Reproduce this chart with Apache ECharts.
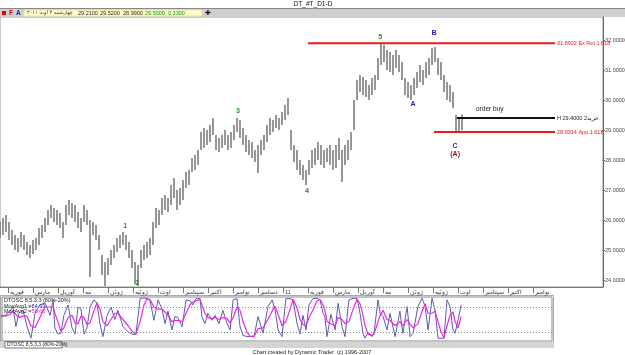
<!DOCTYPE html>
<html>
<head>
<meta charset="utf-8">
<title>DT_#T_D1-D</title>
<script src="https://cdn.jsdelivr.net/npm/echarts@6.0.0/dist/echarts.min.js"></script>
<style>
  html, body { margin: 0; padding: 0; background: #fff; }
  #chart { width: 625px; height: 355px; }
</style>
</head>
<body>
<div id="chart"></div>
<script>
// x unit = months since Jan 2010; one bar every ~3 trading days
const barStart = 0.68;
const barStep = 0.12;

const highs = [
  25.93, 26.07, 26.17, 25.93, 25.67, 25.50, 25.40, 25.60, 25.50, 25.27,
  25.17, 25.33, 25.40, 25.73, 25.83, 26.07, 26.33, 26.50, 26.40, 26.33,
  26.23, 25.93, 26.50, 26.67, 26.57, 26.50, 26.27, 26.07, 26.50, 26.33,
  26.00, 25.93, 25.83, 25.50, 24.83, 24.60, 24.73, 25.00, 25.17, 25.40,
  25.50, 25.60, 25.50, 25.27, 25.00, 24.60, 24.50, 25.00, 25.17, 25.27,
  25.40, 25.93, 26.40, 26.33, 26.73, 26.83, 26.73, 27.17, 27.40, 27.00,
  27.07, 27.33, 27.60, 27.67, 28.07, 28.17, 28.33, 28.93, 29.07, 29.00,
  29.17, 29.40, 28.83, 28.73, 28.83, 29.00, 28.83, 28.93, 29.17, 29.40,
  29.33, 29.07, 28.83, 28.67, 28.60, 28.33, 28.50, 28.67, 28.83, 29.17,
  29.40, 29.33, 29.50, 29.40, 29.60, 29.83, 30.07, 29.00, 28.50, 28.33,
  28.00, 27.83, 27.67, 28.00, 28.33, 28.40, 28.60, 28.50, 28.33, 28.40,
  28.50, 28.33, 28.50, 28.73, 28.33, 28.50, 28.67, 28.93, 30.00, 30.67,
  30.83, 30.77, 30.67, 30.50, 30.73, 30.83, 31.40, 31.90, 31.83, 31.67,
  31.60, 31.50, 31.67, 31.50, 31.27, 30.73, 30.60, 30.50, 30.73, 30.93,
  31.17, 31.00, 31.27, 31.40, 31.73, 31.77, 31.40, 31.27, 30.83, 30.60,
  30.50, 30.27, 29.50, 29.40, 29.52
];
const lows = [
  25.40, 25.50, 25.60, 25.33, 25.17, 25.00, 24.93, 25.10, 25.00, 24.83,
  24.73, 24.87, 25.00, 25.17, 25.40, 25.60, 25.83, 26.07, 25.93, 25.83,
  25.73, 25.40, 25.83, 26.17, 26.07, 25.93, 25.73, 25.60, 25.93, 25.83,
  24.10, 25.50, 25.33, 25.00, 24.17, 23.80, 24.17, 24.50, 24.73, 24.93,
  25.07, 25.17, 25.00, 24.73, 24.40, 23.87, 23.80, 24.40, 24.67, 24.73,
  24.83, 25.17, 25.73, 25.83, 26.17, 26.33, 26.27, 26.50, 26.73, 26.33,
  26.50, 26.67, 27.07, 27.17, 27.60, 27.67, 27.83, 28.33, 28.40, 28.50,
  28.60, 28.83, 28.33, 28.27, 28.40, 28.50, 28.33, 28.40, 28.67, 28.93,
  28.73, 28.50, 28.27, 28.17, 28.07, 27.93, 27.57, 28.17, 28.33, 28.60,
  28.83, 28.93, 29.07, 29.00, 29.17, 29.33, 29.50, 28.33, 27.93, 27.67,
  27.50, 27.33, 27.17, 27.50, 27.73, 27.83, 28.00, 27.83, 27.73, 27.93,
  27.83, 27.67, 27.73, 28.00, 27.27, 27.83, 28.00, 28.33, 29.00, 30.00,
  30.27, 30.17, 30.10, 30.00, 30.17, 30.33, 30.67, 31.17, 31.27, 31.00,
  30.93, 30.83, 31.07, 30.93, 30.67, 30.17, 30.07, 30.00, 30.17, 30.40,
  30.60, 30.50, 30.73, 30.83, 31.17, 31.27, 30.83, 30.67, 30.27, 30.00,
  29.93, 29.73, 28.90, 28.93, 28.99
];

// month ticks (1 = Feb 2010) and their Persian labels
const monthTicks = [1, 2, 3, 4, 5, 6, 7, 8, 9, 10, 11, 12, 13, 14, 15, 16, 17, 18, 19, 20, 21, 22];
const monthNames = ['فوریه', 'مارس', 'آوریل', 'مه', 'ژوئن', 'ژوئیه', 'اوت', 'سپتامبر', 'اکتبر', 'نوامبر', 'دسامبر', '11',
  'فوریه', 'مارس', 'آوریل', 'مه', 'ژوئن', 'ژوئیه', 'اوت', 'سپتامبر', 'اکتبر', 'نوامبر'];
const priceTicks = [24, 25, 26, 27, 28, 29, 30, 31, 32];
const lastPrice = 29.53;

// Elliott wave labels (bar index, price)
const waveNames = ['1', '2', '3', '4', '5', 'A', 'B', 'C', '(A)'];
const waveIdx = [41.7, 45.7, 79.3, 102.3, 126.7, 137.7, 144.7, 151.7, 151.7];
const wavePrice = [25.80, 23.90, 29.62, 26.97, 32.10, 29.87, 32.23, 28.47, 28.20];

// level lines
const levelValues = [31.8922, 29.4, 28.9314];
const levelStart = [102.7, 152.3, 144.7];
const levelEnd = 185;
const levelTexts = ['31.8922 Ex Ret 1.618', 'H 29.4000 خرید2', '28.9314 App 1.618'];

// DTOSC 8,5,3,3 (bar index positions)
const oscPos = [
  0, 1.7, 3.3, 4.3, 5.3, 6.3, 7.7, 9, 10.3, 11.7,
  13.3, 15, 16.7, 17.7, 18.3, 19.3, 20.3, 21.3, 22.7, 24,
  25, 26, 27, 28, 29, 30, 31.3, 32.3, 33.3, 34.3,
  35.7, 37, 38.3, 39.3, 41, 42.7, 44, 45.3, 46.7, 48,
  49, 50, 51.3, 52.7, 54, 55, 56, 57.3, 58.3, 59.3,
  60.7, 62, 63.3, 64.3, 65.3, 66.7, 67.3, 68.3, 69.3, 70.7,
  71.7, 73, 74.3, 75.7, 76.7, 77.7, 79, 80, 81, 82.3,
  83.3, 84.7, 86, 87.7, 89.3, 90.7, 91.7, 92.7, 94, 95.3,
  96.7, 97.7, 99, 100, 101, 102, 103, 104.3, 105.7, 106.7,
  107.7, 108.3, 109, 110.3, 111.7, 112.7, 114, 115, 116.3, 117.7,
  119, 120, 121, 121.7, 122.7, 124, 124.7, 126, 126.7, 127.7,
  129, 130, 131.7, 133.3, 134.3, 135.7, 136.7, 137.7, 139.3, 140.7,
  141.7, 142.7, 144, 145, 146, 147, 148, 149, 150, 151,
  151.7, 152.7, 153.7
];
const oscFast = [
  57, 60, 70, 81, 33, 65, 72, 33, 5, 65,
  85, 90, 60, 97, 30, 15, 17, 60, 85, 30,
  15, 80, 75, 15, 30, 80, 97, 90, 40, 9,
  60, 80, 50, 72, 33, 20, 15, 14, 100, 102,
  100, 96, 48, 97, 75, 40, 70, 25, 57, 55,
  33, 97, 95, 85, 100, 100, 57, 40, 65, 48,
  60, 40, 72, 40, 25, 97, 100, 33, 12, 9,
  9, 10, 57, 17, 80, 97, 73, 25, 9, 100,
  100, 97, 41, 15, 60, 25, 85, 100, 101, 97,
  65, 57, 9, 62, 25, 89, 33, 9, 97, 101,
  101, 65, 17, 5, 20, 9, 20, 97, 65, 57,
  25, 65, 9, 70, 17, 81, 9, 17, 81, 101,
  81, 25, 101, 73, 5, 5, 5, 97, 81, 25,
  17, 49, 84.99
];
const oscSlow = [
  60, 58, 62, 70, 62, 55, 58, 58, 35, 30,
  55, 80, 80, 80, 65, 45, 22, 30, 55, 60,
  42, 40, 58, 55, 38, 42, 70, 90, 75, 45,
  35, 50, 65, 65, 50, 35, 22, 15, 45, 85,
  100, 98, 80, 75, 75, 68, 60, 45, 48, 48,
  45, 65, 85, 92, 95, 98, 85, 65, 55, 52,
  55, 50, 55, 52, 42, 55, 80, 72, 45, 20,
  10, 9, 28, 30, 50, 70, 82, 62, 35, 45,
  75, 98, 78, 50, 38, 35, 55, 72, 95, 98,
  85, 72, 45, 40, 35, 55, 50, 40, 45, 75,
  98, 88, 60, 35, 15, 12, 15, 45, 60, 72,
  50, 48, 35, 45, 35, 50, 38, 30, 40, 70,
  88, 65, 65, 70, 45, 20, 6, 35, 60, 68,
  45, 30, 56.66
];
const oscBands = [80, 20];

const infoDate = 'چهارشنبه ۳ اوت ۲۰۱۱';
const infoValues = ['29.2100', '29.5200', '28.9900', '29.5000', '0.3300'];

const toMonth = i => barStart + i * barStep;
const FONT = 'Liberation Sans, Arial, sans-serif';

const bars = highs.map((h, i) => [toMonth(i), lows[i], h]);
const fastData = oscPos.map((p, i) => [toMonth(p), oscFast[i]]);
const slowData = oscPos.map((p, i) => [toMonth(p), oscSlow[i]]);
const waveData = waveNames.map((n, k) => [toMonth(waveIdx[k]), wavePrice[k], k]);

const levelColors = ['#f01818', '#111111', '#f01818'];
const waveColors = ['#2e8b2e', '#2e8b2e', '#2e8b2e', '#2e8b2e', '#2e8b2e', '#2222cc', '#2222cc', '#2222cc', '#8b1010'];

const chart = echarts.init(document.getElementById('chart'));

const levelSeries = levelValues.map((v, k) => ({
  type: 'line',
  xAxisIndex: 0,
  yAxisIndex: 0,
  data: [[toMonth(levelStart[k]), v], [toMonth(levelEnd), v]],
  showSymbol: false,
  silent: true,
  lineStyle: { color: levelColors[k], width: 2 },
  endLabel: {
    show: true,
    formatter: () => levelTexts[k],
    color: levelColors[k] === '#111111' ? '#222' : '#e02020',
    fontSize: 5.5,
    fontFamily: FONT,
    distance: 2
  },
  markLine: k === 1 ? {
    silent: true,
    symbol: 'none',
    lineStyle: { opacity: 0 },
    label: {
      position: 'end',
      formatter: lastPrice.toFixed(4),
      backgroundColor: '#ffff00',
      color: '#333',
      fontSize: 5.5,
      fontFamily: FONT,
      padding: [1, 1, 0, 1],
      distance: 1
    },
    data: [{ yAxis: lastPrice }]
  } : undefined
}));

const option = {
  animation: false,
  backgroundColor: '#ffffff',
  grid: [
    { left: 0, top: 17, width: 603, height: 270, show: true, borderColor: '#999', backgroundColor: '#fff', containLabel: false, outerBoundsMode: 'none' },
    { left: 2, top: 297, width: 550, height: 44, show: true, borderColor: '#888', backgroundColor: '#fff', containLabel: false, outerBoundsMode: 'none' }
  ],
  xAxis: [
    {
      type: 'value', gridIndex: 0, min: barStart, max: 24.8,
      axisLine: { show: true, lineStyle: { color: '#777' } },
      axisTick: { show: true, customValues: monthTicks, length: 6, lineStyle: { color: '#777' } },
      axisLabel: {
        customValues: monthTicks,
        formatter: v => monthNames[Math.round(v) - 1],
        align: 'left',
        fontSize: 5.5,
        color: '#333',
        margin: 2,
        padding: [0, 0, 0, 2]
      },
      splitLine: { show: false }
    },
    { type: 'value', gridIndex: 1, min: barStart + 2 * 0.04, max: barStart + 552 * 0.04, show: false, splitLine: { show: false } }
  ],
  yAxis: [
    {
      type: 'value', gridIndex: 0, position: 'right', min: 23.7667, max: 32.7667,
      axisLine: { show: true, lineStyle: { color: '#666' } },
      axisTick: { show: true, customValues: priceTicks, length: 2, lineStyle: { color: '#666' } },
      axisLabel: { customValues: priceTicks, formatter: v => v.toFixed(4), fontSize: 5.5, color: '#444', margin: 2, fontFamily: FONT },
      splitLine: { show: false }
    },
    { type: 'value', gridIndex: 1, min: -1.6, max: 104, show: false, splitLine: { show: false } }
  ],
  series: [
    {
      type: 'custom',
      xAxisIndex: 0,
      yAxisIndex: 0,
      silent: true,
      clip: true,
      data: bars,
      encode: { x: 0, y: [1, 2] },
      renderItem: (params, api) => {
        const lo = api.coord([api.value(0), api.value(1)]);
        const hi = api.coord([api.value(0), api.value(2)]);
        return {
          type: 'line',
          shape: { x1: lo[0], y1: lo[1], x2: hi[0], y2: hi[1] },
          style: { stroke: '#6a6a6a', lineWidth: 1.4 }
        };
      }
    },
    ...levelSeries,
    {
      // wave count labels
      type: 'custom',
      xAxisIndex: 0,
      yAxisIndex: 0,
      silent: true,
      z: 5,
      data: waveData,
      encode: { x: 0, y: 1 },
      renderItem: (params, api) => {
        const p = api.coord([api.value(0), api.value(1)]);
        const k = api.value(2);
        return {
          type: 'text',
          x: p[0],
          y: p[1],
          style: {
            text: waveNames[k],
            fill: waveColors[k],
            font: 'bold 7px ' + FONT,
            align: 'center',
            verticalAlign: 'middle'
          }
        };
      }
    },
    {
      type: 'line',
      xAxisIndex: 1,
      yAxisIndex: 1,
      data: fastData,
      showSymbol: false,
      silent: true,
      lineStyle: { color: '#5a5ab8', width: 1 },
      markLine: {
        silent: true,
        symbol: 'none',
        label: { show: false },
        lineStyle: { color: '#888', type: [1, 2], width: 1 },
        data: oscBands.map(b => ({ yAxis: b }))
      }
    },
    {
      type: 'line',
      xAxisIndex: 1,
      yAxisIndex: 1,
      data: slowData,
      showSymbol: false,
      silent: true,
      lineStyle: { color: '#ee22ee', width: 1.2 }
    }
  ],
  graphic: [
    // title row
    { type: 'rect', shape: { x: 0, y: 0, width: 625, height: 9 }, style: { fill: '#fff' }, silent: true },
    { type: 'text', x: 313, y: 1, style: { text: 'DT_#T_D1-D', fill: '#111', font: '6.5px ' + FONT, align: 'center' }, silent: true },
    { type: 'line', shape: { x1: 0, y1: 8.5, x2: 625, y2: 8.5 }, style: { stroke: '#888', lineWidth: 1 }, silent: true },
    // toolbar row
    { type: 'rect', shape: { x: 0, y: 9, width: 625, height: 8 }, style: { fill: '#cfcfcf' }, silent: true },
    { type: 'rect', shape: { x: 2, y: 11, width: 4, height: 4 }, style: { fill: '#e00000' }, silent: true },
    { type: 'text', x: 9, y: 10, style: { text: 'F', fill: '#d00000', font: 'bold 6.5px ' + FONT }, silent: true },
    { type: 'text', x: 16, y: 10, style: { text: 'A', fill: '#2020c0', font: 'bold 6.5px ' + FONT }, silent: true },
    { type: 'rect', shape: { x: 24, y: 10, width: 178, height: 6 }, style: { fill: '#ffffcc', stroke: '#e8e8a8', lineWidth: 1 }, silent: true },
    { type: 'text', x: 27, y: 10.5, style: { text: infoDate, fill: '#333', font: '5px DejaVu Sans, sans-serif' }, silent: true },
    { type: 'text', x: 78, y: 10.5, style: { text: infoValues[0], fill: '#222', font: '5.5px ' + FONT }, silent: true },
    { type: 'text', x: 100, y: 10.5, style: { text: infoValues[1], fill: '#222', font: '5.5px ' + FONT }, silent: true },
    { type: 'text', x: 123, y: 10.5, style: { text: infoValues[2], fill: '#222', font: '5.5px ' + FONT }, silent: true },
    { type: 'text', x: 145, y: 10.5, style: { text: infoValues[3], fill: '#109010', font: '5.5px ' + FONT }, silent: true },
    { type: 'text', x: 168, y: 10.5, style: { text: infoValues[4], fill: '#109010', font: '5.5px ' + FONT }, silent: true },
    { type: 'text', x: 205, y: 9.5, style: { text: '✚', fill: '#111', font: '7px DejaVu Sans, sans-serif' }, silent: true },
    // order note
    { type: 'text', x: 476, y: 106, style: { text: 'order buy', fill: '#222', font: '6.5px ' + FONT }, silent: true },
    // oscillator legend
    {
      type: 'text', x: 4, y: 298, silent: true, z: 10,
      style: {
        text: 'DTOSC 8,5,3,3 (80%-20%)\n{k|MovAvg1 =}{a|' + oscFast[oscFast.length - 1].toFixed(2) + '}\n{k|MovAvg2 =}{b|' + oscSlow[oscSlow.length - 1].toFixed(2) + '}',
        fill: '#222', font: '5.5px ' + FONT, lineHeight: 5.5,
        rich: {
          k: { fill: '#222', fontSize: 5.5, fontFamily: FONT, lineHeight: 5.5 },
          a: { fill: '#3030b0', fontSize: 5.5, fontFamily: FONT, lineHeight: 5.5 },
          b: { fill: '#e020e0', fontSize: 5.5, fontFamily: FONT, lineHeight: 5.5 }
        }
      }
    },
    // bottom strip, tab and footer
    { type: 'rect', shape: { x: 0.5, y: 295.5, width: 553, height: 47 }, style: { fill: 'none', stroke: '#aaa', lineWidth: 1 }, silent: true, z: -1 },
    { type: 'rect', shape: { x: 0, y: 342, width: 554, height: 6 }, style: { fill: '#d4d4d4' }, silent: true },
    { type: 'rect', shape: { x: 5, y: 341.5, width: 57, height: 6.5 }, style: { fill: '#fff', stroke: '#777', lineWidth: 1 }, silent: true },
    { type: 'text', x: 7, y: 342.5, style: { text: 'DTOSC 8,5,3,3 (80%-20%)', fill: '#222', font: '5px ' + FONT }, silent: true },
    { type: 'text', x: 312, y: 349, style: { text: 'Chart created by Dynamic Trader  (c) 1996-2007', fill: '#222', font: '5.5px ' + FONT, align: 'center' }, silent: true }
  ]
};

chart.setOption(option);
</script>
</body>
</html>
